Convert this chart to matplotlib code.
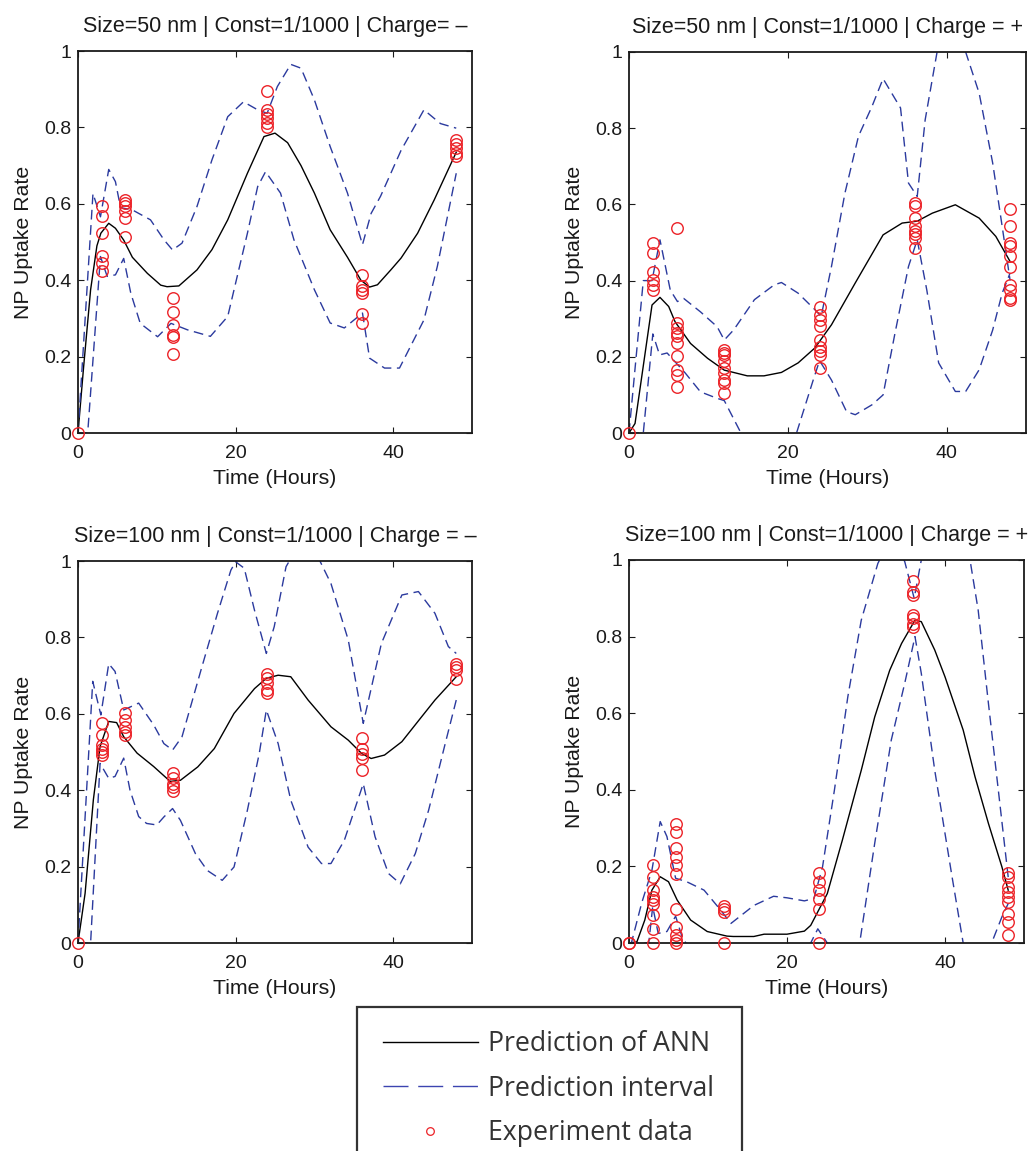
import matplotlib
matplotlib.use("Agg")
import matplotlib.pyplot as plt
from matplotlib.lines import Line2D
from matplotlib.patches import Rectangle

plt.rcParams['font.family'] = ['Liberation Sans', 'DejaVu Sans']

# ---- panel 1: Size=50 nm, charge -
ann_t1 = [0, 0.7, 1.6, 2.4, 2.9, 3.9, 4.75, 5.8, 6.9, 8.8, 10.5, 11.3, 12.8, 15.1, 17, 19, 21.5, 23.6, 25,
          26.6, 28.3, 30, 32, 34.2, 35.9, 37, 38, 39.7, 41, 43.1, 45.2, 48]
ann_v1 = [0, 0.17, 0.375, 0.49, 0.523, 0.549, 0.536, 0.505, 0.46, 0.418, 0.387, 0.383, 0.385, 0.427, 0.48,
          0.558, 0.68, 0.776, 0.785, 0.76, 0.70, 0.628, 0.532, 0.46, 0.40, 0.382, 0.388, 0.427, 0.458, 0.523,
          0.61, 0.735]
up_t1 = [0, 1.9, 2.85, 3.9, 4.75, 5.4, 6.9, 9.2, 10.9, 12, 13.2, 15.1, 17, 19, 21, 22.8, 24, 25.3, 27, 28.3,
         30, 32, 34.2, 36.1, 37.2, 38.4, 41, 43.9, 46, 48]
up_v1 = [0, 0.627, 0.566, 0.69, 0.658, 0.59, 0.584, 0.558, 0.506, 0.479, 0.497, 0.593, 0.715, 0.828, 0.867,
         0.846, 0.837, 0.907, 0.965, 0.955, 0.872, 0.75, 0.628, 0.493, 0.575, 0.62, 0.74, 0.846, 0.81, 0.798]
lo_t1 = [0, 1.23, 2.85, 3.7, 4.75, 5.8, 6.7, 7.9, 10.1, 11.8, 13.9, 16.8, 19, 21.5, 22.8, 23.8, 25.7, 27.4,
         30, 32, 33.8, 36.1, 37, 38.9, 40.8, 43.9, 45.6, 48]
lo_v1 = [0, 0, 0.462, 0.41, 0.414, 0.457, 0.366, 0.287, 0.252, 0.287, 0.27, 0.253, 0.305, 0.523, 0.645,
         0.684, 0.628, 0.506, 0.375, 0.288, 0.275, 0.314, 0.196, 0.17, 0.17, 0.296, 0.436, 0.68]
exp_v1 = [[0],
          [0.593, 0.568, 0.523, 0.464, 0.445, 0.425],
          [0.61, 0.602, 0.593, 0.58, 0.562, 0.513],
          [0.353, 0.317, 0.283, 0.257, 0.251, 0.207],
          [0.896, 0.846, 0.835, 0.824, 0.811, 0.80],
          [0.413, 0.386, 0.375, 0.366, 0.312, 0.288],
          [0.767, 0.757, 0.745, 0.732, 0.725]]

# ---- panel 2: Size=50 nm, charge +
ann_t2 = [0, 0.76, 2.9, 3.9, 5, 5.8, 7.75, 9.9, 12, 14.9, 17, 19.2, 21.3, 23.4, 25.5, 28.5, 32, 34.4, 36.3,
          38.2, 41.1, 44.1, 46.2, 48]
ann_v2 = [0, 0.025, 0.336, 0.356, 0.332, 0.292, 0.235, 0.196, 0.165, 0.15, 0.15, 0.159, 0.184, 0.223, 0.284,
          0.394, 0.52, 0.551, 0.556, 0.577, 0.599, 0.564, 0.516, 0.45]
up_t2 = [0, 1.8, 2.9, 3.9, 5.2, 6.1, 6.9, 9, 11.1, 12, 13.2, 15.8, 18.3, 19.2, 21.3, 23.4, 24.2, 25.5, 27.2,
         28.9, 30.6, 32, 34.2, 35.2, 36.3, 37.3, 38.8, 40.5, 42.4, 44.1, 45.8, 47, 48]
up_v2 = [0, 0.40, 0.40, 0.507, 0.375, 0.345, 0.353, 0.318, 0.279, 0.244, 0.271, 0.35, 0.389, 0.395, 0.367,
         0.324, 0.306, 0.437, 0.63, 0.779, 0.857, 0.93, 0.853, 0.656, 0.621, 0.822, 1.0, 1.08, 1.0, 0.892,
         0.709, 0.542, 0.40]
lo_t2 = [0, 1.8, 3.0, 3.85, 4.8, 7.1, 9, 11.1, 12, 14.1, 17.5, 21.1, 23.2, 24, 25.5, 27.4, 28.5, 30.6, 32,
         33.5, 35.2, 36.3, 37.5, 39, 41.1, 42.4, 44.1, 45.8, 47, 48]
lo_v2 = [0, 0, 0.26, 0.205, 0.21, 0.157, 0.108, 0.091, 0.085, 0, -0.1, 0, 0.139, 0.19, 0.139, 0.056, 0.048,
         0.074, 0.10, 0.262, 0.437, 0.507, 0.376, 0.184, 0.109, 0.109, 0.166, 0.27, 0.367, 0.42]
exp_v2 = [[0],
          [0.499, 0.472, 0.422, 0.402, 0.389, 0.376],
          [0.538, 0.289, 0.276, 0.262, 0.254, 0.236, 0.201, 0.166, 0.153, 0.121],
          [0.217, 0.21, 0.206, 0.188, 0.171, 0.157, 0.14, 0.131, 0.105],
          [0.332, 0.311, 0.297, 0.28, 0.245, 0.227, 0.214, 0.206, 0.171],
          [0.604, 0.595, 0.564, 0.542, 0.529, 0.521, 0.512, 0.486],
          [0.588, 0.542, 0.5, 0.49, 0.464, 0.437, 0.389, 0.376, 0.354, 0.35]]

# ---- panel 3: Size=100 nm, charge -
ann_t3 = [0, 0.9, 1.95, 2.8, 3.9, 4.9, 5.8, 7.5, 9.6, 11.7, 13, 15.2, 17.3, 19.8, 22.4, 23.9, 25.4, 27, 29.2,
          32.1, 34.3, 36, 37.2, 38.9, 41.1, 43.6, 45.3, 48]
ann_v3 = [0, 0.13, 0.375, 0.514, 0.58, 0.577, 0.54, 0.497, 0.462, 0.423, 0.426, 0.461, 0.509, 0.601, 0.666,
          0.693, 0.701, 0.697, 0.636, 0.566, 0.531, 0.496, 0.483, 0.492, 0.527, 0.592, 0.636, 0.697]
up_t3 = [0, 1.87, 2.9, 3.9, 4.7, 5.8, 7.7, 9.6, 10.9, 12, 13.2, 15.6, 17.7, 19.4, 20, 21.1, 22.4, 23.9, 24.9,
         26.4, 28.5, 30.7, 32.1, 34.3, 36.2, 38.5, 41.1, 43.2, 45.3, 47, 48]
up_v3 = [0, 0.685, 0.597, 0.731, 0.711, 0.61, 0.628, 0.571, 0.522, 0.505, 0.54, 0.714, 0.863, 0.976, 0.998,
         0.981, 0.871, 0.758, 0.828, 0.985, 1.06, 1.0, 0.941, 0.793, 0.575, 0.784, 0.911, 0.92, 0.863, 0.776,
         0.758]
lo_t3 = [0, 1.6, 2.8, 3.9, 4.7, 5.8, 6.6, 7.7, 8.7, 10, 10.9, 12, 13, 14.9, 16.4, 18.3, 19.8, 21.5, 23, 23.9,
         25.4, 27, 29.2, 30.9, 32.1, 33.8, 36.2, 37.7, 39.4, 40.9, 42.8, 44.5, 46.6, 48]
lo_v3 = [0, 0, 0.47, 0.431, 0.436, 0.484, 0.40, 0.331, 0.313, 0.309, 0.33, 0.352, 0.321, 0.234, 0.19, 0.164,
         0.199, 0.348, 0.496, 0.61, 0.522, 0.374, 0.251, 0.208, 0.208, 0.269, 0.417, 0.278, 0.182, 0.155,
         0.234, 0.348, 0.522, 0.636]
exp_v3 = [[0],
          [0.575, 0.544, 0.518, 0.509, 0.50, 0.492],
          [0.601, 0.583, 0.566, 0.553, 0.544],
          [0.444, 0.431, 0.417, 0.409, 0.397],
          [0.704, 0.693, 0.68, 0.662, 0.655],
          [0.537, 0.509, 0.496, 0.483, 0.452],
          [0.73, 0.723, 0.714, 0.69]]

# ---- panel 4: Size=100 nm, charge +
ann_t4 = [0, 1, 2, 2.9, 3.95, 5, 6.1, 7.8, 9.9, 12.4, 13.2, 15.8, 17.1, 20, 22.2, 23, 25.1, 27, 29.4, 31.1,
          33, 34.5, 36.2, 37, 38.7, 40, 42.3, 43.8, 45.5, 47.2, 48]
ann_v4 = [0, 0.003, 0.06, 0.138, 0.173, 0.16, 0.112, 0.06, 0.03, 0.018, 0.017, 0.017, 0.023, 0.023, 0.031,
          0.046, 0.129, 0.268, 0.451, 0.59, 0.712, 0.782, 0.843, 0.839, 0.765, 0.695, 0.556, 0.434, 0.312,
          0.199, 0.138]
up_t4 = [0, 0.3, 1.6, 2.9, 3.95, 4.8, 5.9, 7.3, 9.5, 11.6, 12.9, 15.8, 18.3, 20, 22.2, 23.4, 24.5, 26, 27.7,
         29.4, 31.5, 33.2, 34.9, 36.1, 37, 40, 43.2, 44.2, 45.5, 46.8, 48]
up_v4 = [0, 0, 0.104, 0.19, 0.317, 0.278, 0.169, 0.16, 0.138, 0.086, 0.051, 0.098, 0.122, 0.118, 0.11, 0.116,
         0.199, 0.399, 0.643, 0.843, 0.991, 1.06, 0.996, 0.9, 1.0, 1.2, 0.996, 0.869, 0.625, 0.39, 0.172]
lo_t4 = [0, 2.5, 3.0, 3.7, 4.8, 5.9, 6.7, 7.2, 15, 23, 23.9, 25.1, 27, 29.2, 31.1, 33.2, 34.9, 36.2, 37, 38.7,
         40.9, 42.3, 44, 45.9, 47.2, 48]
lo_v4 = [0, 0, 0.095, 0.025, 0.03, 0.07, 0.017, 0, -0.08, 0, 0.037, 0, -0.05, 0, 0.26, 0.53, 0.678, 0.8,
         0.704, 0.451, 0.172, 0, -0.1, 0, 0.068, 0.103]
exp_v4 = [[0, 0],
          [0.203, 0.172, 0.138, 0.12, 0.111, 0.103, 0.072, 0.037, 0.0],
          [0.312, 0.29, 0.247, 0.225, 0.203, 0.181, 0.09, 0.042, 0.02, 0.007, 0.0],
          [0.096, 0.09, 0.081, 0.0],
          [0.183, 0.159, 0.138, 0.116, 0.09, 0.0],
          [0.945, 0.917, 0.908, 0.856, 0.848, 0.834, 0.826],
          [0.183, 0.172, 0.146, 0.133, 0.12, 0.107, 0.077, 0.055, 0.02]]

exp_times = [0, 3, 6, 12, 24, 36, 48]

titles = ['Size=50 nm | Const=1/1000 | Charge= \u2013',
          'Size=50 nm | Const=1/1000 | Charge = +',
          'Size=100 nm | Const=1/1000 | Charge = \u2013',
          'Size=100 nm | Const=1/1000 | Charge = +']

panels = [(ann_t1, ann_v1, up_t1, up_v1, lo_t1, lo_v1, exp_v1),
          (ann_t2, ann_v2, up_t2, up_v2, lo_t2, lo_v2, exp_v2),
          (ann_t3, ann_v3, up_t3, up_v3, lo_t3, lo_v3, exp_v3),
          (ann_t4, ann_v4, up_t4, up_v4, lo_t4, lo_v4, exp_v4)]

W, H = 1033, 1151
# axes boxes in pixels: left, top, right, bottom
boxes = [(78, 51, 472, 433), (629, 52, 1026, 433), (78, 561, 472, 943), (629, 560, 1024, 943)]

BLUE = '#2b3a9e'
RED = '#ec2227'

fig = plt.figure(figsize=(W / 100, H / 100), dpi=100)

for (l, t, r, b), title, (at, av, ut, uv, lt, lv, ev) in zip(boxes, titles, panels):
    ax = fig.add_axes([l / W, 1 - b / H, (r - l) / W, (b - t) / H])
    ax.plot(at, av, color='black', lw=1.0)
    ax.plot(ut, uv, color=BLUE, lw=1.0, dashes=(7, 4))
    ax.plot(lt, lv, color=BLUE, lw=1.0, dashes=(7, 4))
    xs = [tt for tt, vals in zip(exp_times, ev) for _ in vals]
    ys = [v for vals in ev for v in vals]
    ax.plot(xs, ys, 'o', mfc='none', mec=RED, ms=8.3, mew=1.0, clip_on=False, zorder=5)
    ax.set_xlim(0, 50)
    ax.set_ylim(0, 1)
    ax.set_xticks([0, 20, 40])
    ax.set_yticks([0, 0.2, 0.4, 0.6, 0.8, 1])
    ax.set_yticklabels(['0', '0.2', '0.4', '0.6', '0.8', '1'])
    ax.tick_params(direction='in', length=4, width=0.8, top=True, right=True, labelsize=14,
                   colors='#1a1a1a')
    ax.tick_params(axis='x', pad=9)
    ax.tick_params(axis='y', pad=5)
    for s in ax.spines.values():
        s.set_linewidth(1.3)
        s.set_color('#1a1a1a')
    ax.set_title(title, fontsize=15.5, pad=14, color='#1a1a1a')
    ax.set_xlabel('Time (Hours)', fontsize=15.3, labelpad=4.5, color='#1a1a1a')
    ax.set_ylabel('NP Uptake Rate', fontsize=15.3, labelpad=8, color='#1a1a1a')

# legend (drawn as a figure legend inside a hand-placed box)
handles = [Line2D([], [], color='black', lw=1.0),
           Line2D([], [], color='#3c44b0', lw=1.0, dashes=(18, 7)),
           Line2D([], [], ls='none', marker='o', mfc='none', mec=RED, ms=5.5, mew=0.9)]
labels = ['Prediction of ANN', 'Prediction interval', 'Experiment data']
fig.legend(handles, labels, loc='upper left', bbox_to_anchor=(383 / W, 1 - 1030 / H),
           frameon=False, borderpad=0, borderaxespad=0, handlelength=3.55, handletextpad=0.38,
           labelspacing=0.62, prop={'family': 'Open Sans', 'size': 19.2}, labelcolor='#333333')
fig.patches.append(Rectangle((357 / W, -0.05), (742 - 357) / W, 1 - 1007 / H + 0.05,
                             transform=fig.transFigure, fill=False, ec='#333333', lw=1.6))

fig.savefig('out.png', dpi=100)
